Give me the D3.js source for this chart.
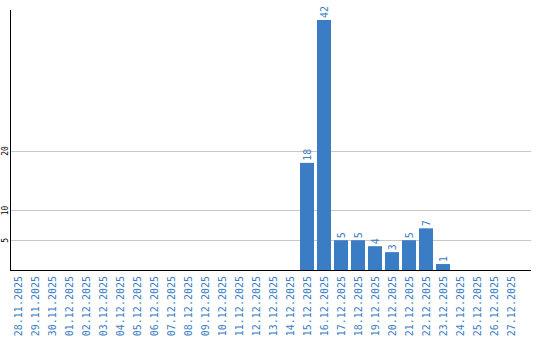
<!DOCTYPE html>
<html>
<head>
<meta charset="utf-8">
<script src="https://cdn.jsdelivr.net/npm/d3@7"></script>
<style>
  html, body { margin: 0; padding: 0; background: #fff; }
  svg { display: block; }
</style>
</head>
<body>
<svg id="chart" width="540" height="340"></svg>
<script>
const dates = [
  '28.11.2025', '29.11.2025', '30.11.2025', '01.12.2025', '02.12.2025', '03.12.2025',
  '04.12.2025', '05.12.2025', '06.12.2025', '07.12.2025', '08.12.2025', '09.12.2025',
  '10.12.2025', '11.12.2025', '12.12.2025', '13.12.2025', '14.12.2025', '15.12.2025',
  '16.12.2025', '17.12.2025', '18.12.2025', '19.12.2025', '20.12.2025', '21.12.2025',
  '22.12.2025', '23.12.2025', '24.12.2025', '25.12.2025', '26.12.2025', '27.12.2025'
];
const counts = [0, 0, 0, 0, 0, 0, 0, 0, 0, 0, 0, 0, 0, 0, 0, 0, 0, 18, 42, 5, 5, 4, 3, 5, 7, 1, 0, 0, 0, 0];
const yTicks = [5, 10, 20];

const BLUE = '#3a7dc4';
const svg = d3.select('#chart');
const left = 10.5, right = 531, base = 270;

const x = d3.scaleBand()
  .domain(dates)
  .range([9.5, 519.5])
  .paddingInner(3 / 17)
  .paddingOuter(1.5 / 17);
const y = d3.scaleLinear().domain([0, 42]).range([base, 20]);

// grid lines
svg.append('g')
  .selectAll('line')
  .data(yTicks)
  .join('line')
  .attr('x1', left)
  .attr('x2', right)
  .attr('y1', (d) => Math.round(y(d)) + 0.5)
  .attr('y2', (d) => Math.round(y(d)) + 0.5)
  .attr('stroke', '#c8c8c8')
  .attr('stroke-width', 1);

// y tick labels, rotated
svg.append('g')
  .selectAll('text')
  .data(yTicks)
  .join('text')
  .attr('transform', (d) => `translate(8, ${y(d)}) rotate(-90)`)
  .attr('text-anchor', 'middle')
  .attr('font-family', 'DejaVu Sans Mono, monospace')
  .attr('font-size', 8)
  .attr('fill', '#000')
  .text((d) => d);

// bars
const rows = dates.map((date, i) => ({ date, value: counts[i] }));
svg.append('g')
  .selectAll('rect')
  .data(rows.filter((d) => d.value > 0))
  .join('rect')
  .attr('x', (d) => x(d.date))
  .attr('y', (d) => y(d.value))
  .attr('width', x.bandwidth())
  .attr('height', (d) => base - y(d.value))
  .attr('fill', BLUE);

// value labels
svg.append('g')
  .selectAll('text')
  .data(rows.filter((d) => d.value > 0))
  .join('text')
  .attr('transform', (d) => `translate(${x(d.date) + x.bandwidth() / 2}, ${y(d.value) - 2}) rotate(-90)`)
  .attr('dy', '0.35em')
  .attr('text-anchor', 'start')
  .attr('font-family', 'DejaVu Sans Mono, monospace')
  .attr('font-size', 10)
  .attr('fill', BLUE)
  .text((d) => d.value);

// axes lines
svg.append('line')
  .attr('x1', left).attr('x2', left)
  .attr('y1', 10).attr('y2', base + 1)
  .attr('stroke', '#000').attr('stroke-width', 1);
svg.append('line')
  .attr('x1', left).attr('x2', right)
  .attr('y1', base + 0.5).attr('y2', base + 0.5)
  .attr('stroke', '#000').attr('stroke-width', 1);

// x labels, rotated
svg.append('g')
  .selectAll('text')
  .data(dates)
  .join('text')
  .attr('transform', (d) => `translate(${x(d) + x.bandwidth() / 2}, 276) rotate(-90)`)
  .attr('dy', '0.35em')
  .attr('text-anchor', 'end')
  .attr('font-family', 'DejaVu Sans Mono, monospace')
  .attr('font-size', 10)
  .attr('fill', BLUE)
  .text((d) => d);
</script>
</body>
</html>
